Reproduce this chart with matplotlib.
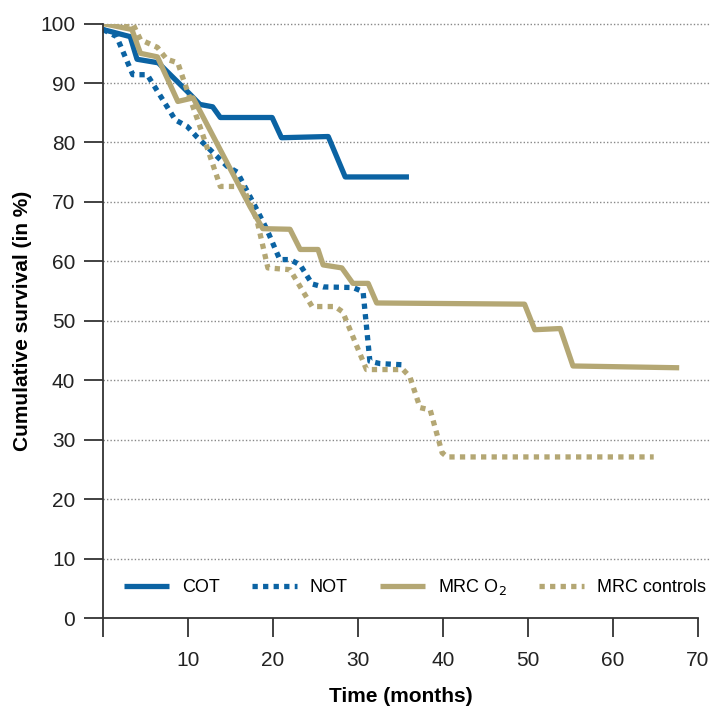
import matplotlib
matplotlib.use("Agg")
import matplotlib.pyplot as plt

# survival curves (months, % surviving)
cot_t = [0, 3.2, 4.0, 6.5, 9.9, 11.4, 12.9, 13.8, 19.9, 21.0, 26.5, 28.5, 36.0]
cot_s = [99.0, 97.8, 94.0, 93.4, 88.6, 86.4, 86.0, 84.2, 84.2, 80.8, 81.0, 74.2, 74.2]

not_t = [0, 1.6, 3.5, 5.2, 8.5, 9.9, 11.0, 14.6, 15.8, 18.1, 19.3, 20.8, 22.0, 23.2,
         24.6, 25.9, 29.4, 30.6, 31.4, 32.6, 35.3]
not_s = [99.0, 97.8, 91.4, 91.4, 83.8, 82.7, 81.0, 76.0, 75.0, 68.7, 65.3, 60.3, 60.3, 59.4,
         56.2, 55.7, 55.6, 54.9, 43.2, 42.8, 42.6]

mrc_o2_t = [0, 3.4, 4.4, 6.4, 8.8, 10.6, 17.3, 18.8, 22.0, 23.2, 25.3, 25.9, 28.1, 29.4,
            31.2, 32.2, 49.6, 50.8, 53.8, 55.3, 67.8]
mrc_o2_s = [100.0, 99.0, 95.0, 94.4, 86.9, 87.5, 69.2, 65.5, 65.4, 62.0, 62.0, 59.4, 58.9, 56.3,
            56.3, 53.0, 52.8, 48.5, 48.7, 42.4, 42.1]

mrc_c_t = [0, 3.5, 4.4, 6.4, 7.5, 8.8, 9.6, 11.4, 13.8, 15.5, 16.5, 18.1, 19.4, 22.0,
           24.6, 27.3, 28.2, 31.0, 35.3, 36.1, 37.3, 38.5, 39.9, 40.5, 64.8]
mrc_c_s = [100.0, 100.0, 97.3, 96.0, 94.0, 93.4, 90.0, 82.7, 72.6, 72.6, 72.4, 67.0, 58.9, 58.6,
           52.4, 52.4, 51.5, 41.8, 41.8, 40.6, 35.4, 35.0, 27.8, 27.1, 27.1]

yticks = list(range(0, 101, 10))
xticks = list(range(0, 71, 10))

blue = "#0b63a3"
tan = "#b4a774"
plt.rcParams["font.family"] = ["Liberation Sans", "DejaVu Sans"]

fig = plt.figure(figsize=(7.18, 7.06), dpi=100)
ax = fig.add_axes([0.1435, 0.1246, 0.8285, 0.842])

lw = 3.8
ax.plot(cot_t, cot_s, color=blue, lw=lw, solid_capstyle="butt", label="COT")
ax.plot(not_t, not_s, color=blue, lw=lw, linestyle=(0, (1, 1)), dash_capstyle="butt", label="NOT")
ax.plot(mrc_o2_t, mrc_o2_s, color=tan, lw=lw, solid_capstyle="butt", label="MRC O$_2$")
ax.plot(mrc_c_t, mrc_c_s, color=tan, lw=lw, linestyle=(0, (1, 1)), dash_capstyle="butt",
        label="MRC controls")

ax.set_xlim(0, 70)
ax.set_ylim(0, 100)
ax.set_xticks(xticks)
ax.set_xticklabels([""] + [str(v) for v in xticks[1:]])
ax.set_yticks(yticks)
# dotted gridlines run a little past the end of the x axis
ax.hlines(yticks[1:], 0, 71.3, colors="#888888", linestyles=(0, (1, 1.5)), lw=1,
          clip_on=False, zorder=0)
for s in ["top", "right"]:
    ax.spines[s].set_visible(False)
for s in ["left", "bottom"]:
    ax.spines[s].set_color("#333333")
    ax.spines[s].set_linewidth(1.3)
ax.tick_params(axis="both", direction="out", length=14, width=1.3, color="#333333",
               labelsize=15, labelcolor="#222222")
ax.tick_params(axis="x", pad=10)
ax.tick_params(axis="y", pad=6)

ax.set_xlabel("Time (months)", fontsize=15, fontweight="bold", labelpad=12)
ax.set_ylabel("Cumulative survival (in %)", fontsize=15, fontweight="bold", labelpad=6)

ax.legend(loc="center left", bbox_to_anchor=(0.035, 0.052), ncol=4, frameon=False,
          fontsize=13, handlelength=2.5, columnspacing=1.8, handletextpad=0.7,
          borderaxespad=0, borderpad=0)

fig.savefig("out.png", dpi=100)
